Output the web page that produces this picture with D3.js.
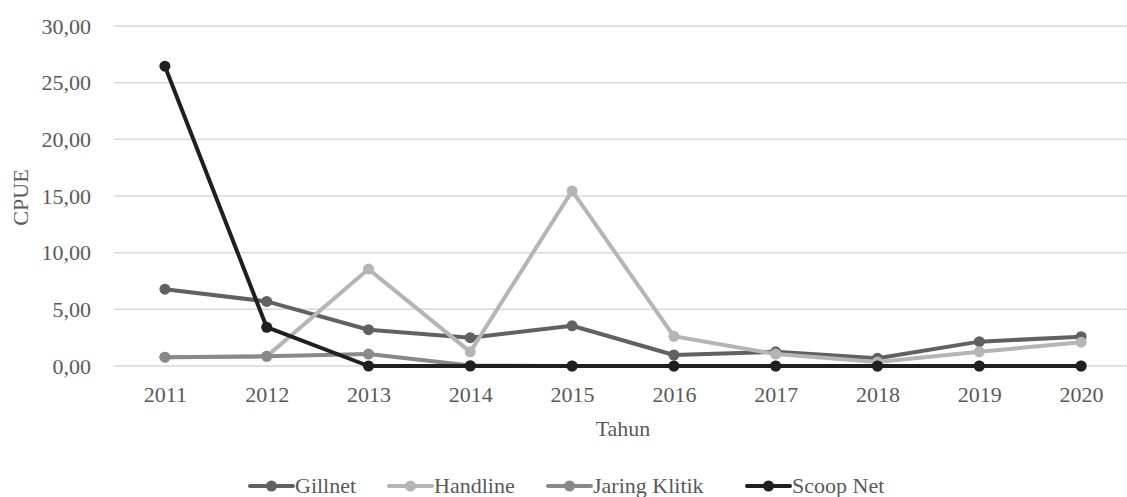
<!DOCTYPE html>
<html>
<head>
<meta charset="utf-8">
<script src="https://cdn.jsdelivr.net/npm/d3@7/dist/d3.min.js"></script>
<style>
  html, body { margin: 0; padding: 0; background: #fff; }
  svg { display: block; }
  svg text { font-family: "Liberation Serif", "Times New Roman", Times, serif; }
</style>
</head>
<body>
<svg id="chart" width="1127" height="497"></svg>
<script>
const years = ["2011","2012","2013","2014","2015","2016","2017","2018","2019","2020"];
const gillnet     = [6.78, 5.70, 3.20, 2.50, 3.55, 0.97, 1.25, 0.68, 2.15, 2.58];
const handline    = [0.78, 0.85, 8.55, 1.25, 15.45, 2.62, 1.05, 0.35, 1.25, 2.10];
const jaringKlitik= [0.78, 0.85, 1.05, 0.05, 0.00, 0.00, 0.00, 0.00, 0.00, 0.00];
const scoopNet    = [26.45, 3.42, 0.00, 0.00, 0.00, 0.00, 0.00, 0.00, 0.00, 0.00];
const seriesNames = ["Gillnet", "Handline", "Jaring Klitik", "Scoop Net"];
const seriesColors = ["#616161", "#b5b5b5", "#898989", "#1f1f1f"];
const yTicks = [0, 5, 10, 15, 20, 25, 30];

const series = [gillnet, handline, jaringKlitik, scoopNet].map((v, i) => ({
  name: seriesNames[i], color: seriesColors[i], values: v
}));

const svg = d3.select("#chart");
const plot = { left: 114, right: 1132, top: 26, bottom: 366 };
const textColor = "#595959";
const fontSize = "22px";

const x = d3.scalePoint().domain(years).range([plot.left, plot.right]).padding(0.5);
const y = d3.scaleLinear().domain([0, 30]).range([plot.bottom, plot.top]);

const fmt = v => d3.format(".2f")(v).replace(".", ",");

// horizontal gridlines
svg.append("g").selectAll("line").data(yTicks).join("line")
  .attr("x1", plot.left).attr("x2", plot.right)
  .attr("y1", d => y(d)).attr("y2", d => y(d))
  .attr("stroke", "#d9d9d9").attr("stroke-width", 1.5);

// y axis labels
const yAxis = svg.append("g").attr("transform", `translate(${plot.left},0)`)
  .call(d3.axisLeft(y).tickValues(yTicks).tickFormat(fmt).tickSize(0).tickPadding(23));
yAxis.attr("font-family", null).attr("font-size", null);
yAxis.select(".domain").remove();
yAxis.selectAll("text").attr("fill", textColor).style("font-size", fontSize);

// x axis labels
const xAxis = svg.append("g").attr("transform", `translate(0,${plot.bottom})`)
  .call(d3.axisBottom(x).tickSize(0).tickPadding(20));
xAxis.attr("font-family", null).attr("font-size", null);
xAxis.select(".domain").remove();
xAxis.selectAll("text").attr("fill", textColor).style("font-size", fontSize);

// axis titles
svg.append("text").attr("x", (plot.left + plot.right) / 2).attr("y", 436).attr("text-anchor", "middle")
  .attr("fill", textColor).style("font-size", fontSize).text("Tahun");
svg.append("text").attr("transform", "translate(28,197.5) rotate(-90)")
  .attr("text-anchor", "middle").attr("fill", textColor).style("font-size", fontSize).text("CPUE");

// lines and markers
const line = d3.line().x((d, i) => x(years[i])).y(d => y(d));
const g = svg.append("g");
series.forEach(s => {
  g.append("path").datum(s.values).attr("d", line)
    .attr("fill", "none").attr("stroke", s.color).attr("stroke-width", 4)
    .attr("stroke-linejoin", "round").attr("stroke-linecap", "round");
  g.append("g").selectAll("circle").data(s.values).join("circle")
    .attr("cx", (d, i) => x(years[i])).attr("cy", d => y(d)).attr("r", 5.5)
    .attr("fill", s.color);
});

// legend
const legendX = [250, 389, 548, 747];
const leg = svg.append("g");
series.forEach((s, i) => {
  const lx = legendX[i], ly = 486;
  leg.append("line").attr("x1", lx).attr("x2", lx + 43).attr("y1", ly).attr("y2", ly)
    .attr("stroke", s.color).attr("stroke-width", 4).attr("stroke-linecap", "round");
  leg.append("circle").attr("cx", lx + 21.5).attr("cy", ly).attr("r", 5.5).attr("fill", s.color);
  leg.append("text").attr("x", lx + 45).attr("y", 493).attr("fill", textColor)
    .style("font-size", fontSize).text(s.name);
});
</script>
</body>
</html>
